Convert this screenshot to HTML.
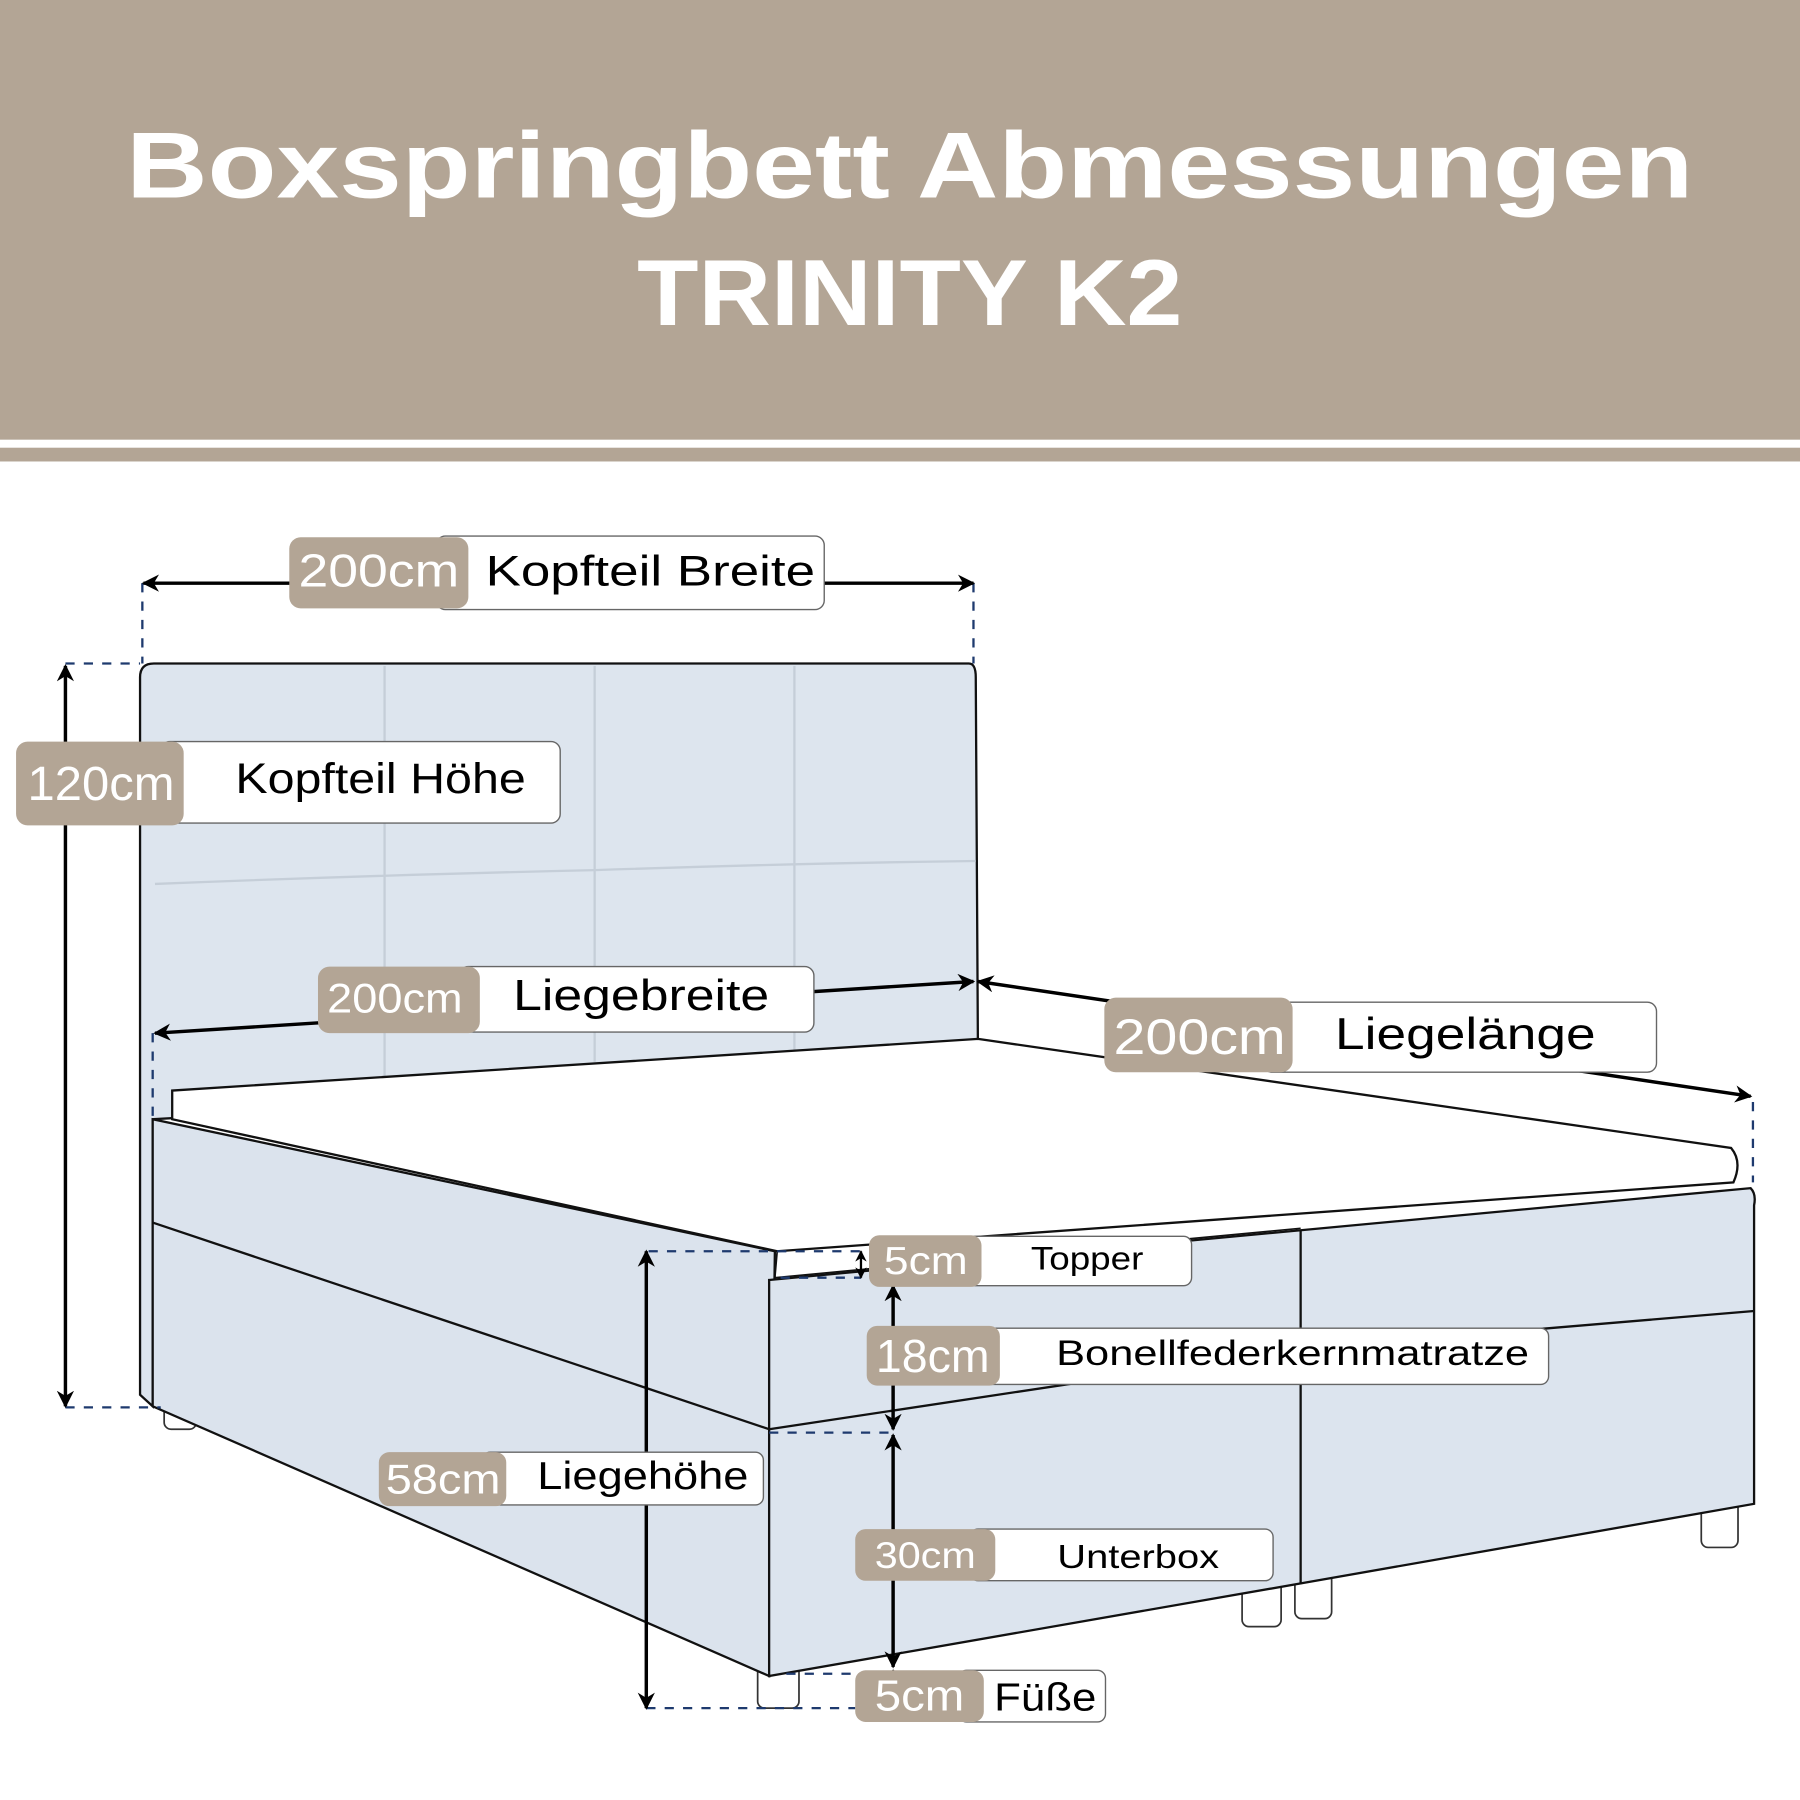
<!DOCTYPE html>
<html><head><meta charset="utf-8"><style>
html,body{margin:0;padding:0;background:#fff;}
svg{display:block;}
text{font-family:"Liberation Sans",sans-serif;}
</style></head><body>
<svg width="1800" height="1800" viewBox="0 0 1568 1568" xmlns="http://www.w3.org/2000/svg">
<defs>
<marker id="ah" viewBox="0 0 10 10" refX="9" refY="5" markerWidth="5" markerHeight="5" orient="auto-start-reverse"><path d="M0,0 L10,5 L0,10 L3,5 z" fill="#000"/></marker>
</defs>
<rect x="0" y="0" width="1568" height="383" fill="#b3a595"/>
<rect x="0" y="390" width="1568" height="12" fill="#b3a595"/>
<text x="110" y="172" font-size="82" font-weight="bold" fill="#fff" textLength="1365" lengthAdjust="spacingAndGlyphs">Boxspringbett Abmessungen</text>
<text x="555" y="283" font-size="82" font-weight="bold" fill="#fff" textLength="475" lengthAdjust="spacingAndGlyphs">TRINITY K2</text>

<!-- legs (behind box) -->
<g fill="#fff" stroke="#333" stroke-width="1.5">
<rect x="143" y="1215" width="28" height="30" rx="6"/>
<rect x="660" y="1440" width="36" height="48" rx="6"/>
<rect x="1082" y="1370" width="34" height="47" rx="6"/>
<rect x="1128" y="1370" width="32" height="40" rx="6"/>
<rect x="1482" y="1300" width="32" height="48" rx="6"/>
</g>

<!-- headboard -->
<path d="M122,1215 L122,590 Q122,578 134,578 L844,578 Q850,578 850,590 L852,935 L133,975 L133,1225 Z" fill="#dde5ee" stroke="#111" stroke-width="2"/>
<g stroke="#c5ced8" stroke-width="2" fill="none">
<line x1="335" y1="580" x2="335" y2="940"/>
<line x1="518" y1="580" x2="518" y2="925"/>
<line x1="692" y1="580" x2="692" y2="915"/>
<path d="M135,770 Q335,762 518,758 Q692,752 850,750"/>
</g>
<!-- left side box -->
<path d="M133,975 L675,1090 L670,1460 L133,1225 Z" fill="#dbe3ed" stroke="#111" stroke-width="2"/>
<path d="M133,1065 L670,1245" stroke="#111" stroke-width="2"/>
<!-- front box -->
<path d="M670,1115 L1525,1035 Q1530,1040 1528,1050 L1528,1310 L1135,1379 L670,1460 Z" fill="#dce4ee" stroke="#111" stroke-width="2"/>
<path d="M670,1245 L1135,1175 L1528,1142" stroke="#111" stroke-width="2" fill="none"/>
<line x1="1133" y1="1072" x2="1133" y2="1380" stroke="#111" stroke-width="2"/>
<!-- mattress top -->
<path d="M150,950 L852,905 L1508,1000 Q1518,1012 1510,1030 L677,1090 L150,975 Z" fill="#fff" stroke="#111" stroke-width="2"/>
<path d="M677,1090 L675,1113 L1133,1070" stroke="#111" stroke-width="1.5" fill="none"/>

<!-- dashed guides -->
<g stroke="#1e3a6e" stroke-width="2" stroke-dasharray="8,8" fill="none">
<line x1="124" y1="508" x2="124" y2="578"/>
<line x1="848" y1="508" x2="848" y2="578"/>
<line x1="57" y1="578" x2="122" y2="578"/>
<line x1="57" y1="1226" x2="140" y2="1226"/>
<line x1="133" y1="900" x2="133" y2="975"/>
<line x1="1527" y1="960" x2="1527" y2="1030"/>
<line x1="565" y1="1090" x2="750" y2="1090"/>
<line x1="680" y1="1113" x2="750" y2="1113"/>
<line x1="670" y1="1248" x2="778" y2="1248"/>
<line x1="563" y1="1488" x2="745" y2="1488"/>
<line x1="685" y1="1458" x2="745" y2="1458"/>
</g>

<!-- arrows -->
<g stroke="#000" stroke-width="3" marker-start="url(#ah)" marker-end="url(#ah)">
<line x1="125" y1="508" x2="848" y2="508"/>
<line x1="57" y1="580" x2="57" y2="1225"/>
<line x1="135" y1="900" x2="848" y2="855"/>
<line x1="852" y1="855" x2="1525" y2="955"/>
<line x1="750" y1="1090" x2="750" y2="1113" stroke-width="2"/>
<line x1="778" y1="1120" x2="778" y2="1245"/>
<line x1="563" y1="1090" x2="563" y2="1488"/>
<line x1="778" y1="1250" x2="778" y2="1452"/>
<line x1="778" y1="1455" x2="778" y2="1480" stroke-width="2"/>
</g>

<!-- labels -->
<g stroke="#666" stroke-width="1.2">
<rect x="380" y="467" width="338" height="64" rx="8" fill="#fff"/>
<rect x="140" y="646" width="348" height="71" rx="8" fill="#fff"/>
<rect x="400" y="842" width="309" height="57" rx="8" fill="#fff"/>
<rect x="1100" y="873" width="343" height="61" rx="8" fill="#fff"/>
<rect x="830" y="1077" width="208" height="43" rx="7" fill="#fff"/>
<rect x="850" y="1157" width="499" height="49" rx="7" fill="#fff"/>
<rect x="420" y="1265" width="245" height="46" rx="7" fill="#fff"/>
<rect x="845" y="1332" width="264" height="45" rx="7" fill="#fff"/>
<rect x="835" y="1455" width="128" height="45" rx="7" fill="#fff"/>
</g>
<g fill="#b3a595">
<rect x="252" y="468" width="156" height="62" rx="10"/>
<rect x="14" y="646" width="146" height="73" rx="10"/>
<rect x="277" y="842" width="141" height="58" rx="10"/>
<rect x="962" y="869" width="164" height="65" rx="10"/>
<rect x="757" y="1076" width="98" height="45" rx="9"/>
<rect x="755" y="1155" width="116" height="52" rx="9"/>
<rect x="330" y="1265" width="111" height="47" rx="9"/>
<rect x="745" y="1332" width="122" height="45" rx="9"/>
<rect x="745" y="1455" width="112" height="45" rx="9"/>
</g>
<g fill="#fff">
<text x="260" y="511" font-size="40" textLength="140" lengthAdjust="spacingAndGlyphs">200cm</text>
<text x="24" y="697" font-size="42" textLength="128" lengthAdjust="spacingAndGlyphs">120cm</text>
<text x="285" y="882" font-size="36" textLength="118" lengthAdjust="spacingAndGlyphs">200cm</text>
<text x="970" y="918" font-size="44" textLength="150" lengthAdjust="spacingAndGlyphs">200cm</text>
<text x="770" y="1110" font-size="34" textLength="73" lengthAdjust="spacingAndGlyphs">5cm</text>
<text x="763" y="1195" font-size="40" textLength="99" lengthAdjust="spacingAndGlyphs">18cm</text>
<text x="336" y="1301" font-size="36" textLength="100" lengthAdjust="spacingAndGlyphs">58cm</text>
<text x="762" y="1366" font-size="32" textLength="88" lengthAdjust="spacingAndGlyphs">30cm</text>
<text x="762" y="1490" font-size="38" textLength="78" lengthAdjust="spacingAndGlyphs">5cm</text>
</g>
<g fill="#000">
<text x="423" y="510" font-size="37" textLength="287" lengthAdjust="spacingAndGlyphs">Kopfteil Breite</text>
<text x="205" y="691" font-size="37" textLength="253" lengthAdjust="spacingAndGlyphs">Kopfteil Höhe</text>
<text x="447" y="880" font-size="38" textLength="223" lengthAdjust="spacingAndGlyphs">Liegebreite</text>
<text x="1163" y="914" font-size="39" textLength="227" lengthAdjust="spacingAndGlyphs">Liegelänge</text>
<text x="898" y="1106" font-size="28" textLength="98" lengthAdjust="spacingAndGlyphs">Topper</text>
<text x="920" y="1189" font-size="31" textLength="412" lengthAdjust="spacingAndGlyphs">Bonellfederkernmatratze</text>
<text x="468" y="1297" font-size="34" textLength="184" lengthAdjust="spacingAndGlyphs">Liegehöhe</text>
<text x="921" y="1366" font-size="29" textLength="141" lengthAdjust="spacingAndGlyphs">Unterbox</text>
<text x="866" y="1490" font-size="34" textLength="89" lengthAdjust="spacingAndGlyphs">Füße</text>
</g>
</svg>
</body></html>
